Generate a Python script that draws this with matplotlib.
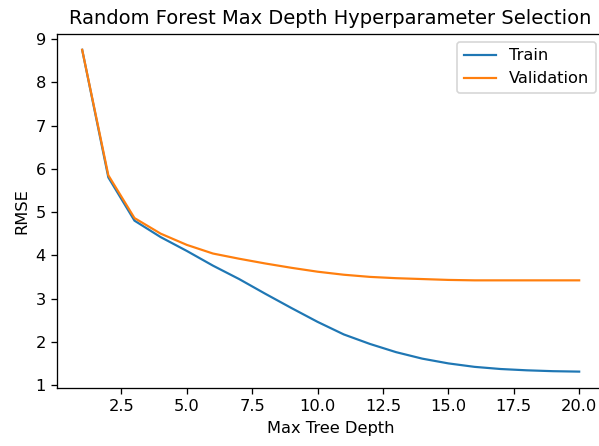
import matplotlib
matplotlib.use("Agg")
import matplotlib.pyplot as plt

# Max tree depth vs RMSE
depths = list(range(1, 21))
train_rmse = [8.75, 5.80, 4.80, 4.42, 4.10, 3.76, 3.45, 3.11, 2.78, 2.46,
              2.17, 1.95, 1.76, 1.61, 1.50, 1.42, 1.37, 1.34, 1.32, 1.31]
val_rmse = [8.75, 5.85, 4.86, 4.50, 4.24, 4.04, 3.92, 3.81, 3.71, 3.62,
            3.55, 3.50, 3.47, 3.45, 3.43, 3.42, 3.42, 3.42, 3.42, 3.42]

DPI = 117
fig, ax = plt.subplots(figsize=(599 / DPI, 446 / DPI), dpi=DPI)
# the right edge of the axes is cut off by the image border in the reference
fig.subplots_adjust(left=0.0957, right=1.0084, top=0.9244, bottom=0.1307)
ax.spines["right"].set_visible(False)

ax.plot(depths, train_rmse, label="Train", lw=1.35)
ax.plot(depths, val_rmse, label="Validation", lw=1.35)
ax.set_xlabel("Max Tree Depth")
ax.set_ylabel("RMSE")
ax.set_title("Random Forest Max Depth Hyperparameter Selection")
ax.legend()

fig.savefig("out.png", dpi=DPI)
